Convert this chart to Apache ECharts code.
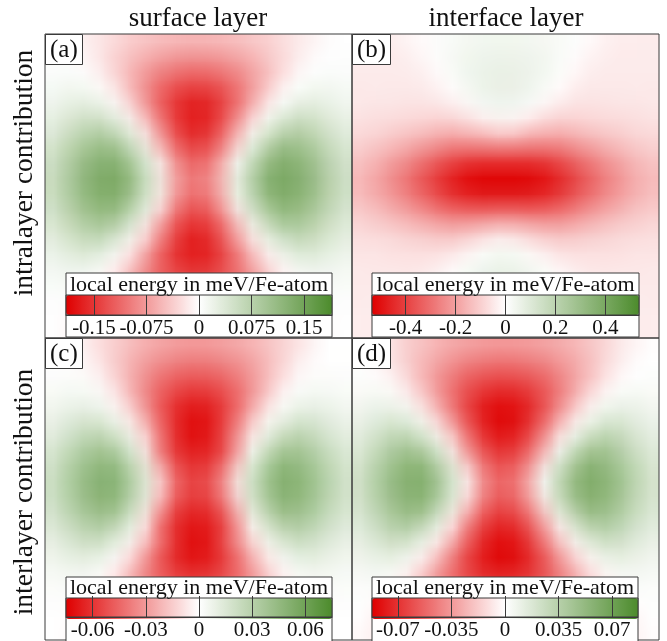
<!DOCTYPE html>
<html><head><meta charset="utf-8">
<script src="https://cdn.jsdelivr.net/npm/echarts@6/dist/echarts.min.js"></script>
<style>
html,body{margin:0;padding:0;background:#fff}
#wrap{position:relative;width:667px;height:641px;overflow:hidden;background:#fff}
.hm{position:absolute;width:20px;height:20px;transform-origin:0 0}
#c{position:absolute;left:0;top:0;width:667px;height:641px}
</style>
</head><body>
<div id="wrap">
<div id="h0" class="hm"></div><div id="h1" class="hm"></div><div id="h2" class="hm"></div><div id="h3" class="hm"></div>
<div id="c"></div>
</div>
<script>
// ---------------- data ----------------
const columnTitles = ['surface layer', 'interface layer'];
const rowTitles = ['intralayer contribution', 'interlayer contribution'];
const panelLabels = ['(a)', '(b)', '(c)', '(d)'];
const colorbarTitle = 'local energy in meV/Fe-atom';

const rangeA = 0.19, rangeB = 0.535, rangeC = 0.075, rangeD = 0.087;
const ticksA = [-0.15, -0.075, 0, 0.075, 0.15];
const tickLabelsA = ['-0.15', '-0.075', '0', '0.075', '0.15'];
const ticksB = [-0.4, -0.2, 0, 0.2, 0.4];
const tickLabelsB = ['-0.4', '-0.2', '0', '0.2', '0.4'];
const ticksC = [-0.06, -0.03, 0, 0.03, 0.06];
const tickLabelsC = ['-0.06', '-0.03', '0', '0.03', '0.06'];
const ticksD = [-0.07, -0.035, 0, 0.035, 0.07];
const tickLabelsD = ['-0.07', '-0.035', '0', '0.035', '0.07'];

// local energy (meV/Fe-atom), rows top -> bottom, columns left -> right
const energyA = [
[0,-.003,-.009,-.017,-.025,-.032,-.038,-.043,-.046,-.048,-.048,-.046,-.043,-.038,-.032,-.025,-.017,-.009,-.003,0],
[.001,.001,-.006,-.017,-.029,-.042,-.052,-.061,-.067,-.07,-.07,-.067,-.061,-.052,-.042,-.029,-.017,-.006,.001,.001],
[.003,.003,.001,-.011,-.03,-.05,-.068,-.083,-.094,-.099,-.099,-.094,-.083,-.068,-.05,-.03,-.011,.001,.003,.003],
[.007,.01,.008,0,-.019,-.048,-.077,-.102,-.12,-.129,-.129,-.12,-.102,-.077,-.048,-.019,0,.008,.01,.007],
[.012,.019,.022,.016,-.001,-.033,-.076,-.115,-.143,-.158,-.158,-.143,-.115,-.076,-.033,-.001,.016,.022,.019,.012],
[.02,.031,.043,.041,.024,-.004,-.051,-.103,-.145,-.167,-.167,-.145,-.103,-.051,-.004,.024,.041,.043,.031,.02],
[.029,.046,.063,.075,.058,.027,-.013,-.073,-.129,-.161,-.161,-.129,-.073,-.013,.027,.058,.075,.063,.046,.029],
[.038,.061,.083,.1,.101,.063,.021,-.051,-.113,-.143,-.143,-.113,-.051,.021,.063,.101,.1,.083,.061,.038],
[.046,.073,.101,.12,.126,.099,.049,.004,-.08,-.118,-.118,-.08,.004,.049,.099,.126,.12,.101,.073,.046],
[.051,.08,.111,.132,.138,.123,.067,.02,-.065,-.1,-.1,-.065,.02,.067,.123,.138,.132,.111,.08,.051],
[.051,.08,.111,.132,.138,.123,.067,.02,-.065,-.1,-.1,-.065,.02,.067,.123,.138,.132,.111,.08,.051],
[.046,.073,.101,.12,.126,.099,.049,.004,-.08,-.118,-.118,-.08,.004,.049,.099,.126,.12,.101,.073,.046],
[.038,.061,.083,.1,.101,.063,.021,-.051,-.113,-.143,-.143,-.113,-.051,.021,.063,.101,.1,.083,.061,.038],
[.029,.046,.063,.075,.058,.027,-.013,-.073,-.129,-.161,-.161,-.129,-.073,-.013,.027,.058,.075,.063,.046,.029],
[.02,.031,.043,.041,.024,-.004,-.051,-.103,-.145,-.167,-.167,-.145,-.103,-.051,-.004,.024,.041,.043,.031,.02],
[.012,.019,.022,.016,-.001,-.033,-.076,-.115,-.143,-.158,-.158,-.143,-.115,-.076,-.033,-.001,.016,.022,.019,.012],
[.007,.01,.008,0,-.019,-.048,-.077,-.102,-.12,-.129,-.129,-.12,-.102,-.077,-.048,-.019,0,.008,.01,.007],
[.003,.003,.001,-.011,-.03,-.05,-.068,-.083,-.094,-.099,-.099,-.094,-.083,-.068,-.05,-.03,-.011,.001,.003,.003],
[.001,.001,-.006,-.017,-.029,-.042,-.052,-.061,-.067,-.07,-.07,-.067,-.061,-.052,-.042,-.029,-.017,-.006,.001,.001],
[0,-.003,-.009,-.017,-.025,-.032,-.038,-.043,-.046,-.048,-.048,-.046,-.043,-.038,-.032,-.025,-.017,-.009,-.003,0]
];

const energyB = [
[-.037,-.037,-.037,-.022,-.004,.01,.02,.027,.032,.035,.035,.032,.027,.02,.01,-.004,-.022,-.037,-.037,-.037],
[-.04,-.04,-.04,-.036,-.016,.004,.022,.036,.045,.049,.049,.045,.036,.022,.004,-.016,-.036,-.04,-.04,-.04],
[-.042,-.042,-.042,-.042,-.029,-.008,.018,.041,.056,.064,.064,.056,.041,.018,-.008,-.029,-.042,-.042,-.042,-.042],
[-.045,-.045,-.045,-.045,-.044,-.023,0,.033,.056,.067,.067,.056,.033,0,-.023,-.044,-.045,-.045,-.045,-.045],
[-.049,-.049,-.05,-.052,-.053,-.044,-.022,.008,.041,.057,.057,.041,.008,-.022,-.044,-.053,-.052,-.05,-.049,-.049],
[-.055,-.058,-.062,-.066,-.07,-.075,-.063,-.042,-.003,.023,.023,-.003,-.042,-.063,-.075,-.07,-.066,-.062,-.058,-.055],
[-.069,-.077,-.087,-.098,-.111,-.124,-.134,-.119,-.097,-.055,-.055,-.097,-.119,-.134,-.124,-.111,-.098,-.087,-.077,-.069],
[-.091,-.108,-.128,-.153,-.18,-.209,-.237,-.238,-.229,-.216,-.216,-.229,-.238,-.237,-.209,-.18,-.153,-.128,-.108,-.091],
[-.118,-.145,-.18,-.221,-.266,-.315,-.36,-.391,-.401,-.398,-.398,-.401,-.391,-.36,-.315,-.266,-.221,-.18,-.145,-.118],
[-.139,-.174,-.219,-.272,-.331,-.393,-.452,-.492,-.511,-.511,-.511,-.511,-.492,-.452,-.393,-.331,-.272,-.219,-.174,-.139],
[-.139,-.174,-.219,-.272,-.331,-.393,-.452,-.492,-.511,-.511,-.511,-.511,-.492,-.452,-.393,-.331,-.272,-.219,-.174,-.139],
[-.118,-.145,-.18,-.221,-.266,-.315,-.36,-.391,-.401,-.398,-.398,-.401,-.391,-.36,-.315,-.266,-.221,-.18,-.145,-.118],
[-.091,-.108,-.128,-.153,-.18,-.209,-.237,-.238,-.229,-.216,-.216,-.229,-.238,-.237,-.209,-.18,-.153,-.128,-.108,-.091],
[-.069,-.077,-.087,-.098,-.111,-.124,-.134,-.119,-.097,-.055,-.055,-.097,-.119,-.134,-.124,-.111,-.098,-.087,-.077,-.069],
[-.055,-.058,-.062,-.066,-.07,-.075,-.063,-.042,-.003,.023,.023,-.003,-.042,-.063,-.075,-.07,-.066,-.062,-.058,-.055],
[-.049,-.049,-.05,-.052,-.053,-.044,-.022,.008,.041,.057,.057,.041,.008,-.022,-.044,-.053,-.052,-.05,-.049,-.049],
[-.045,-.045,-.045,-.045,-.044,-.023,0,.033,.056,.067,.067,.056,.033,0,-.023,-.044,-.045,-.045,-.045,-.045],
[-.042,-.042,-.042,-.042,-.029,-.008,.018,.041,.056,.064,.064,.056,.041,.018,-.008,-.029,-.042,-.042,-.042,-.042],
[-.04,-.04,-.04,-.036,-.016,.004,.022,.036,.045,.049,.049,.045,.036,.022,.004,-.016,-.036,-.04,-.04,-.04],
[-.037,-.037,-.037,-.022,-.004,.01,.02,.027,.032,.035,.035,.032,.027,.02,.01,-.004,-.022,-.037,-.037,-.037]
];

const energyC = [
[0,0,-.004,-.009,-.013,-.017,-.021,-.024,-.026,-.027,-.027,-.026,-.024,-.021,-.017,-.013,-.009,-.004,0,0],
[0,0,-.002,-.007,-.014,-.02,-.026,-.03,-.033,-.035,-.035,-.033,-.03,-.026,-.02,-.014,-.007,-.002,0,0],
[.001,.001,.001,-.004,-.012,-.021,-.03,-.037,-.042,-.044,-.044,-.042,-.037,-.03,-.021,-.012,-.004,.001,.001,.001],
[.002,.003,.003,.001,-.007,-.02,-.032,-.043,-.05,-.054,-.054,-.05,-.043,-.032,-.02,-.007,.001,.003,.003,.002],
[.004,.006,.007,.005,-.001,-.014,-.031,-.047,-.058,-.064,-.064,-.058,-.047,-.031,-.014,-.001,.005,.007,.006,.004],
[.007,.011,.015,.013,.007,-.003,-.023,-.044,-.061,-.07,-.07,-.061,-.044,-.023,-.003,.007,.013,.015,.011,.007],
[.01,.016,.022,.026,.018,.007,-.01,-.036,-.058,-.07,-.07,-.058,-.036,-.01,.007,.018,.026,.022,.016,.01],
[.014,.022,.03,.036,.033,.018,.001,-.038,-.06,-.067,-.067,-.06,-.038,.001,.018,.033,.036,.03,.022,.014],
[.017,.027,.037,.044,.046,.03,.011,-.022,-.051,-.061,-.061,-.051,-.022,.011,.03,.046,.044,.037,.027,.017],
[.019,.03,.041,.049,.051,.037,.017,-.009,-.043,-.055,-.055,-.043,-.009,.017,.037,.051,.049,.041,.03,.019],
[.019,.03,.041,.049,.051,.037,.017,-.009,-.043,-.055,-.055,-.043,-.009,.017,.037,.051,.049,.041,.03,.019],
[.017,.027,.037,.044,.046,.03,.011,-.022,-.051,-.061,-.061,-.051,-.022,.011,.03,.046,.044,.037,.027,.017],
[.014,.022,.03,.036,.033,.018,.001,-.038,-.06,-.067,-.067,-.06,-.038,.001,.018,.033,.036,.03,.022,.014],
[.01,.016,.022,.026,.018,.007,-.01,-.036,-.058,-.07,-.07,-.058,-.036,-.01,.007,.018,.026,.022,.016,.01],
[.007,.011,.015,.013,.007,-.003,-.023,-.044,-.061,-.07,-.07,-.061,-.044,-.023,-.003,.007,.013,.015,.011,.007],
[.004,.006,.007,.005,-.001,-.014,-.031,-.047,-.058,-.064,-.064,-.058,-.047,-.031,-.014,-.001,.005,.007,.006,.004],
[.002,.003,.003,.001,-.007,-.02,-.032,-.043,-.05,-.054,-.054,-.05,-.043,-.032,-.02,-.007,.001,.003,.003,.002],
[.001,.001,.001,-.004,-.012,-.021,-.03,-.037,-.042,-.044,-.044,-.042,-.037,-.03,-.021,-.012,-.004,.001,.001,.001],
[0,0,-.002,-.007,-.014,-.02,-.026,-.03,-.033,-.035,-.035,-.033,-.03,-.026,-.02,-.014,-.007,-.002,0,0],
[0,0,-.004,-.009,-.013,-.017,-.021,-.024,-.026,-.027,-.027,-.026,-.024,-.021,-.017,-.013,-.009,-.004,0,0]
];

const energyD = [
[-.001,-.004,-.008,-.015,-.019,-.023,-.027,-.029,-.031,-.032,-.032,-.031,-.029,-.027,-.023,-.019,-.015,-.008,-.004,-.001],
[0,-.002,-.008,-.015,-.022,-.028,-.033,-.038,-.04,-.042,-.042,-.04,-.038,-.033,-.028,-.022,-.015,-.008,-.002,0],
[.001,0,-.004,-.013,-.023,-.032,-.041,-.048,-.052,-.055,-.055,-.052,-.048,-.041,-.032,-.023,-.013,-.004,0,.001],
[.002,.003,.001,-.006,-.019,-.033,-.046,-.056,-.064,-.068,-.068,-.064,-.056,-.046,-.033,-.019,-.006,.001,.003,.002],
[.005,.007,.007,.003,-.009,-.027,-.045,-.062,-.073,-.079,-.079,-.073,-.062,-.045,-.027,-.009,.003,.007,.007,.005],
[.008,.012,.016,.013,.004,-.012,-.036,-.058,-.075,-.084,-.084,-.075,-.058,-.036,-.012,.004,.013,.016,.012,.008],
[.011,.018,.026,.028,.019,.004,-.018,-.046,-.068,-.08,-.08,-.068,-.046,-.018,.004,.019,.028,.026,.018,.011],
[.015,.024,.035,.043,.038,.021,-.002,-.036,-.059,-.071,-.071,-.059,-.036,-.002,.021,.038,.043,.035,.024,.015],
[.018,.03,.042,.052,.056,.038,.016,-.015,-.046,-.06,-.06,-.046,-.015,.016,.038,.056,.052,.042,.03,.018],
[.02,.033,.047,.057,.061,.05,.025,.002,-.036,-.052,-.052,-.036,.002,.025,.05,.061,.057,.047,.033,.02],
[.02,.033,.047,.057,.061,.05,.025,.002,-.036,-.052,-.052,-.036,.002,.025,.05,.061,.057,.047,.033,.02],
[.018,.03,.042,.052,.056,.038,.016,-.015,-.046,-.06,-.06,-.046,-.015,.016,.038,.056,.052,.042,.03,.018],
[.015,.024,.035,.043,.038,.021,-.002,-.036,-.059,-.071,-.071,-.059,-.036,-.002,.021,.038,.043,.035,.024,.015],
[.011,.018,.026,.028,.019,.004,-.018,-.046,-.068,-.08,-.08,-.068,-.046,-.018,.004,.019,.028,.026,.018,.011],
[.008,.012,.016,.013,.004,-.012,-.036,-.058,-.075,-.084,-.084,-.075,-.058,-.036,-.012,.004,.013,.016,.012,.008],
[.005,.007,.007,.003,-.009,-.027,-.045,-.062,-.073,-.079,-.079,-.073,-.062,-.045,-.027,-.009,.003,.007,.007,.005],
[.002,.003,.001,-.006,-.019,-.033,-.046,-.056,-.064,-.068,-.068,-.064,-.056,-.046,-.033,-.019,-.006,.001,.003,.002],
[.001,0,-.004,-.013,-.023,-.032,-.041,-.048,-.052,-.055,-.055,-.052,-.048,-.041,-.032,-.023,-.013,-.004,0,.001],
[0,-.002,-.008,-.015,-.022,-.028,-.033,-.038,-.04,-.042,-.042,-.04,-.038,-.033,-.028,-.022,-.015,-.008,-.002,0],
[-.001,-.004,-.008,-.015,-.019,-.023,-.027,-.029,-.031,-.032,-.032,-.031,-.029,-.027,-.023,-.019,-.015,-.008,-.004,-.001]
];

// ---------------- layout / style ----------------
const SERIF = '"Liberation Serif", "DejaVu Serif", serif';
const RED = '#df0000', WHITE = '#ffffff', GREEN = '#4c8b2c';
const INK = '#3a3a3a';

const panels = [
  {data: energyA, range: rangeA, ticks: ticksA, labels: tickLabelsA, left: 45,  top: 34,  w: 307, h: 304, barLeft: 66,  barW: 266, boxTop: 273, barTop: 295, barH: 20, boxBottom: 337},
  {data: energyB, range: rangeB, ticks: ticksB, labels: tickLabelsB, left: 352, top: 34,  w: 307, h: 304, barLeft: 372, barW: 267, boxTop: 273, barTop: 295, barH: 20, boxBottom: 337},
  {data: energyC, range: rangeC, ticks: ticksC, labels: tickLabelsC, left: 45,  top: 338, w: 307, h: 302, barLeft: 66,  barW: 266, boxTop: 577, barTop: 598, barH: 21, boxBottom: 645},
  {data: energyD, range: rangeD, ticks: ticksD, labels: tickLabelsD, left: 352, top: 338, w: 307, h: 302, barLeft: 372, barW: 266, boxTop: 577, barTop: 598, barH: 21, boxBottom: 645}
];

// ---------------- heat maps: one small chart per panel, one pixel per cell, shown scaled (smooth) ----------------
panels.forEach((p, i) => {
  const nRows = p.data.length, nCols = p.data[0].length;
  const el = document.getElementById('h' + i);
  el.style.width = nCols + 'px';
  el.style.height = nRows + 'px';
  el.style.left = p.left + 'px';
  el.style.top = p.top + 'px';
  el.style.transform = 'scale(' + (p.w / nCols) + ',' + (p.h / nRows) + ')';
  const hc = echarts.init(el, null, {renderer: 'canvas', devicePixelRatio: 1, width: nCols, height: nRows});
  const d = [];
  p.data.forEach((row, r) => row.forEach((v, c) => d.push([c, r, v])));
  hc.setOption({
    animation: false,
    grid: {left: 0, right: 0, top: 0, bottom: 0},
    xAxis: {type: 'category', data: Array.from({length: nCols}, (_, k) => String(k)), show: false},
    yAxis: {type: 'category', data: Array.from({length: nRows}, (_, k) => String(k)), inverse: true, show: false},
    visualMap: {type: 'continuous', show: false, dimension: 2, min: -p.range, max: p.range,
                inRange: {color: [RED, WHITE, GREEN]}},
    series: [{type: 'heatmap', data: d, silent: true, progressive: 0,
              itemStyle: {borderWidth: 0}, emphasis: {disabled: true}}]
  });
});

// ---------------- frames, colour bars, texts ----------------
const grid = [], xAxis = [], yAxis = [], series = [], visualMap = [], title = [], graphic = [];

panels.forEach((p, i) => {
  grid.push({left: p.left, top: p.top, width: p.w, height: p.h, show: true,
             borderColor: INK, borderWidth: 1, backgroundColor: 'transparent', z: 3});
  xAxis.push({type: 'value', gridIndex: i, min: 0, max: 1, show: false});
  yAxis.push({type: 'value', gridIndex: i, min: 0, max: 1, show: false});
  series.push({type: 'scatter', xAxisIndex: i, yAxisIndex: i, data: [], silent: true});
  title.push({text: panelLabels[i], left: p.left, top: p.top, padding: [3, 5, 2, 5],
              borderColor: INK, borderWidth: 1, backgroundColor: '#fff',
              textStyle: {fontFamily: SERIF, fontSize: 25, fontWeight: 'normal', color: '#111', lineHeight: 26}, z: 8});
  graphic.push({type: 'rect', z: 5, shape: {x: p.barLeft, y: p.boxTop, width: p.barW, height: p.boxBottom - p.boxTop},
                style: {fill: '#fff', stroke: INK, lineWidth: 1}});
  graphic.push({type: 'text', z: 7, x: p.barLeft + p.barW / 2, y: (p.boxTop + p.barTop) / 2 + 1,
                style: {text: colorbarTitle, font: '22px ' + SERIF, fill: '#111',
                        textAlign: 'center', textVerticalAlign: 'middle', align: 'center', verticalAlign: 'middle'}});
});

panels.forEach((p, i) => {
  const gi = 4 + i;
  grid.push({left: p.barLeft, top: p.barTop, width: p.barW, height: p.barH, show: true,
             borderColor: INK, borderWidth: 1, backgroundColor: 'transparent', z: 10});
  xAxis.push({type: 'value', gridIndex: gi, min: -p.range, max: p.range, position: 'bottom', z: 10,
              axisLine: {show: true, lineStyle: {color: INK, width: 1}},
              axisTick: {show: true, inside: true, length: p.barH, customValues: p.ticks, lineStyle: {color: INK, width: 1}},
              axisLabel: {show: true, customValues: p.ticks, margin: 3, fontFamily: SERIF, fontSize: 21, color: '#111',
                          formatter: v => {
                            let best = 0;
                            p.ticks.forEach((t, k) => { if (Math.abs(t - v) < Math.abs(p.ticks[best] - v)) best = k; });
                            return p.labels[best];
                          }},
              splitLine: {show: false}});
  yAxis.push({type: 'value', gridIndex: gi, min: 0, max: 1, show: false});
  series.push({type: 'scatter', xAxisIndex: gi, yAxisIndex: gi, data: [], silent: true});
  visualMap.push({type: 'continuous', seriesIndex: gi, dimension: 0, min: -p.range, max: p.range,
                  calculable: false, hoverLink: false, orient: 'horizontal',
                  left: p.barLeft, top: p.barTop, itemWidth: p.barH, itemHeight: p.barW,
                  padding: 0, text: null, inRange: {color: [RED, WHITE, GREEN]}, z: 6});
});

// column and row headings
const headStyle = (t, size) => ({text: t, font: size + 'px ' + SERIF, fill: '#111',
  textAlign: 'center', textVerticalAlign: 'middle', align: 'center', verticalAlign: 'middle'});
graphic.push({type: 'text', x: 198, y: 19, style: headStyle(columnTitles[0], 27)});
graphic.push({type: 'text', x: 506, y: 19, style: headStyle(columnTitles[1], 27)});
graphic.push({type: 'text', x: 25, y: 173, rotation: Math.PI / 2, style: headStyle(rowTitles[0], 27.5)});
graphic.push({type: 'text', x: 25, y: 492, rotation: Math.PI / 2, style: headStyle(rowTitles[1], 27.5)});

const chart = echarts.init(document.getElementById('c'), null, {renderer: 'canvas'});
chart.setOption({animation: false, backgroundColor: 'transparent', grid, xAxis, yAxis, series, visualMap, title, graphic});
</script>
</body></html>
